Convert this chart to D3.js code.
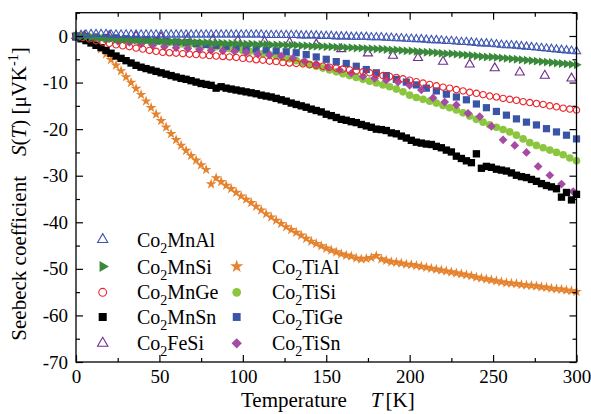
<!DOCTYPE html>
<html>
<head>
<meta charset="utf-8">
<script src="https://cdn.jsdelivr.net/npm/d3@7"></script>
<style>
  html, body { margin: 0; padding: 0; background: #fff; }
  svg { display: block; }
  text { font-family: "Liberation Serif", "Times New Roman", serif; fill: #000; }
</style>
</head>
<body>
<svg id="chart" width="591" height="414"></svg>
<script>
// ---------------- DATA ----------------
const xTicks = [0, 50, 100, 150, 200, 250, 300];
const yTicks = [0, -10, -20, -30, -40, -50, -60, -70];

const T3 = [0,3,6,9,12,15,18,21,24,27,30,33,36,39,42,45,48,51,54,57,60,63,66,69,72,75,78,81,84,87,90,93,96,99,102,105,108,111,114,117,120,123,126,129,132,135,138,141,144,147,150,153,156,159,162,165,168,171,174,177,180,183,186,189,192,195,198,201,204,207,210,213,216,219,222,225,228,231,234,237,240,243,246,249,252,255,258,261,264,267,270,273,276,279,282,285,288,291,294,297,300];
const T4 = [0,4,8,12,16,20,24,28,32,36,40,44,48,52,56,60,64,68,72,76,80,84,88,92,96,100,104,108,112,116,120,124,128,132,136,140,144,148,152,156,160,164,168,172,176,180,184,188,192,196,200,204,208,212,216,220,224,228,232,236,240,244,248,252,256,260,264,268,272,276,280,284,288,292,296,300];
const T6 = [0,6,12,18,24,30,36,42,48,54,60,66,72,78,84,90,96,102,108,114,120,126,132,138,144,150,156,162,168,174,180,186,192,198,204,210,216,222,228,234,240,246,252,258,264,270,276,282,288,294,300];
const T_FeSi = [5,20,36,51,67,82,97,113,128,144,159,175,190,205,220,236,251,266,281,297];
const T_TiSn = [4,11,18,25,32,39,46,53,60,67,74,81,88,95,102,109,116,123,130,137,144,151,158,165,172,179,186,193,200,207,214,221,228,235,242,249,256,263,270,277,284,291,298];

const S_MnAl = [0,0.2,0.3,0.4,0.4,0.4,0.4,0.3,0.3,0.3,0.3,
  0.3,0.3,0.3,0.3,0.3,0.3,0.3,0.3,0.3,0.3,
  0.3,0.3,0.3,0.3,0.3,0.3,0.3,0.3,0.3,0.3,
  0.3,0.3,0.3,0.3,0.3,0.3,0.3,0.2,0.2,0.2,
  0.2,0.2,0.2,0.2,0.1,0.1,0.1,0.1,0.0,0.0,
  0.0,-0.1,-0.1,-0.1,-0.2,-0.2,-0.2,-0.2,-0.3,-0.3,
  -0.3,-0.4,-0.4,-0.5,-0.5,-0.6,-0.6,-0.7,-0.7,-0.8,
  -0.9,-0.9,-1.0,-1.1,-1.1,-1.2,-1.3,-1.3,-1.4,-1.5,
  -1.6,-1.6,-1.7,-1.8,-1.9,-2.0,-2.0,-2.1,-2.2,-2.3,
  -2.4,-2.5,-2.6,-2.7,-2.8,-2.9,-3.0,-3.1,-3.2,-3.3];

const S_MnSi = [0,-0.1,-0.2,-0.3,-0.4,-0.5,-0.6,-0.6,-0.7,-0.8,-0.8,
  -0.9,-0.9,-1.0,-1.0,-1.1,-1.1,-1.1,-1.2,-1.2,-1.2,
  -1.3,-1.3,-1.3,-1.4,-1.4,-1.4,-1.5,-1.5,-1.5,-1.6,
  -1.6,-1.6,-1.7,-1.7,-1.7,-1.8,-1.8,-1.8,-1.9,-1.9,
  -1.9,-2.0,-2.0,-2.0,-2.1,-2.1,-2.2,-2.2,-2.2,-2.3,
  -2.3,-2.4,-2.4,-2.5,-2.5,-2.6,-2.6,-2.7,-2.7,-2.8,
  -2.8,-2.9,-3.0,-3.0,-3.1,-3.2,-3.2,-3.3,-3.4,-3.5,
  -3.5,-3.6,-3.7,-3.8,-3.8,-3.9,-4.0,-4.1,-4.2,-4.3,
  -4.4,-4.5,-4.5,-4.6,-4.7,-4.8,-4.9,-5.0,-5.1,-5.2,
  -5.3,-5.4,-5.5,-5.6,-5.7,-5.8,-5.9,-6.0,-6.1,-6.2];

const S_MnGe = [0,-0.3,-0.6,-1.0,-1.3,-1.6,-1.9,-2.1,-2.3,-2.6,-2.8,-3.1,-3.3,-3.5,-3.6,-3.7,-3.8,-3.9,-4.0,-4.1,
  -4.2,-4.3,-4.4,-4.5,-4.6,-4.8,-4.9,-5.1,-5.2,-5.4,-5.5,-5.7,-5.8,-5.9,-6.0,-6.2,-6.3,-6.5,-6.7,-6.9,
  -7.1,-7.3,-7.5,-7.7,-7.9,-8.2,-8.5,-8.7,-8.9,-9.2,-9.5,-9.8,-10.1,-10.4,-10.7,-11.0,-11.2,-11.5,-11.8,-12.1,
  -12.3,-12.6,-12.9,-13.1,-13.4,-13.6,-13.8,-14.1,-14.3,-14.5,-14.7,-15.0,-15.2,-15.5,-15.7,-15.9];

const S_MnSn = [-0.2,-0.6,-1.0,-1.5,-2.0,-2.5,-3.1,-3.7,-4.3,-4.8,-5.3,
  -5.8,-6.3,-6.7,-7.0,-7.3,-7.6,-7.9,-8.2,-8.5,-8.8,
  -9.1,-9.3,-9.6,-9.9,-10.2,-10.4,-10.6,-11.2,-10.9,-11.2,
  -11.4,-11.6,-11.8,-12.0,-12.2,-12.4,-12.7,-12.9,-13.1,-13.4,
  -13.7,-14.0,-14.4,-14.7,-15.0,-15.3,-15.7,-16.0,-16.3,-16.8,
  -17.1,-17.5,-17.9,-18.1,-18.4,-18.6,-19.0,-19.3,-19.6,-20.0,
  -20.1,-20.3,-20.8,-21.0,-21.5,-21.9,-22.4,-22.8,-23.0,-23.2,
  -23.3,-23.7,-24.0,-24.5,-24.9,-25.8,-26.3,-26.8,-27.2,-25.3,
  -28.4,-28.0,-28.2,-28.6,-28.8,-29.0,-29.4,-29.9,-30.2,-30.4,
  -30.8,-31.2,-31.7,-32.1,-32.4,-32.8,-34.6,-33.6,-35.2,-34.0];

const S_FeSi = [0,0,-0.1,-0.3,-0.5,-0.8,-1.0,-1.2,-1.4,-1.8,-2.8,-3.7,-4.2,-4.7,-5.5,-6.1,-6.9,-7.8,-8.5,-9.1];

const S_TiAl = [0.3,0.2,-0.4,-1.0,-1.8,-2.8,-3.9,-5.1,-6.3,-7.5,-8.8,
  -10.0,-11.3,-12.6,-14.0,-15.4,-16.8,-18.2,-19.6,-21.0,-22.3,
  -23.5,-24.6,-25.7,-26.7,-27.7,-28.7,-31.8,-30.5,-31.3,-32.1,
  -32.8,-33.6,-34.4,-35.1,-35.8,-36.6,-37.4,-38.2,-38.9,-39.6,
  -40.3,-41.0,-41.6,-42.2,-42.8,-43.5,-44.1,-44.6,-45.1,-45.6,
  -46.0,-46.4,-46.8,-47.1,-47.3,-47.7,-47.9,-47.8,-47.6,-47.2,
  -47.9,-48.2,-48.5,-48.6,-48.8,-49.0,-49.1,-49.3,-49.5,-49.7,
  -49.9,-50.1,-50.3,-50.5,-50.7,-50.9,-51.1,-51.3,-51.5,-51.8,
  -52.0,-52.2,-52.4,-52.6,-52.8,-53.0,-53.1,-53.2,-53.4,-53.5,
  -53.6,-53.7,-53.9,-54.0,-54.2,-54.3,-54.4,-54.6,-54.7,-54.9];

const S_TiSi = [0,-0.1,-0.2,-0.3,-0.4,-0.5,-0.6,-0.7,-0.8,-0.9,-1.0,-1.1,-1.2,-1.3,-1.4,-1.6,-1.7,-1.8,-1.9,-2.0,
  -2.1,-2.3,-2.5,-2.7,-2.9,-3.1,-3.3,-3.5,-3.8,-4.0,-4.3,-4.6,-4.9,-5.3,-5.7,-6.1,-6.5,-6.9,-7.3,-7.7,
  -8.1,-8.5,-8.9,-9.3,-9.7,-10.1,-10.5,-10.9,-11.4,-12.0,-12.7,-13.2,-13.6,-14.0,-14.4,-14.9,-15.4,-15.9,-16.5,-17.2,
  -17.9,-18.5,-19.1,-19.6,-20.1,-20.6,-21.3,-22.1,-22.9,-23.5,-24.0,-24.5,-25.0,-25.5,-26.2,-26.8];

const S_TiGe = [0,-0.1,-0.2,-0.3,-0.4,-0.6,-0.7,-0.8,-1.0,-1.1,-1.3,-1.4,-1.6,-1.8,-2.0,-2.2,-2.4,-2.6,-2.8,-3.0,
  -3.2,-3.4,-3.6,-4.0,-4.5,-5.0,-5.5,-5.9,-6.5,-7.2,-7.9,-8.5,-9.3,-9.9,-10.5,-11.2,-11.8,-12.5,-13.1,-13.7,
  -14.6,-15.4,-16.2,-17.0,-17.8,-18.5,-19.1,-19.9,-20.6,-21.3,-22.1];

const S_TiSn = [-0.2,-0.5,-0.8,-1.1,-1.4,-1.7,-2.0,-2.3,-2.5,-2.7,-2.9,-3.1,-3.2,-3.3,-3.5,-3.9,-4.1,-4.3,-4.8,-5.4,
  -6.0,-6.7,-7.3,-8.0,-8.7,-9.1,-9.5,-9.9,-10.6,-11.6,-13.3,-14.2,-14.8,-16.6,-17.3,-19.4,-22.3,-23.5,-25.0,-28.0,
  -29.9,-31.8,-33.4];

// ---------------- CHART ----------------
const svg = d3.select("#chart");
const pLeft = 76, pRight = 576.5, pTop = 12.7, pBottom = 362;

const x = d3.scaleLinear().domain([0, 300]).range([pLeft, pRight]);
const y = d3.scaleLinear().domain([-70, 5]).range([pBottom, pTop]);

const series = [
  {name: "MnAl", T: T3, S: S_MnAl, color: "#3d56b2", shape: "tri", fill: false, size: 30},
  {name: "MnSi", T: T3, S: S_MnSi, color: "#3b893b", shape: "triR", fill: true, size: 34},
  {name: "MnGe", T: T4, S: S_MnGe, color: "#e8262c", shape: "circle", fill: false, size: 32},
  {name: "MnSn", T: T3, S: S_MnSn, color: "#000000", shape: "square", fill: true, size: 54},
  {name: "FeSi", T: T_FeSi, S: S_FeSi, color: "#6f2c8f", shape: "tri", fill: false, size: 36},
  {name: "TiAl", T: T3, S: S_TiAl, color: "#e5832f", shape: "star", fill: true, size: 36},
  {name: "TiSi", T: T4, S: S_TiSi, color: "#8cc63f", shape: "circle", fill: true, size: 46},
  {name: "TiGe", T: T6, S: S_TiGe, color: "#3a55a6", shape: "square", fill: true, size: 52},
  {name: "TiSn", T: T_TiSn, S: S_TiSn, color: "#a64ba4", shape: "diamond", fill: true, size: 38}
];
const byName = Object.fromEntries(series.map(s => [s.name, s]));

function symPath(s, scale) {
  const k = scale || 1;
  let type = d3.symbolCircle;
  if (s.shape === "tri" || s.shape === "triR") type = d3.symbolTriangle;
  if (s.shape === "square" || s.shape === "diamond") type = d3.symbolSquare;
  if (s.shape === "star") type = d3.symbolStar;
  return d3.symbol().type(type).size(s.size * k)();
}
function symRot(s) {
  if (s.shape === "triR") return 90;
  if (s.shape === "diamond") return 45;
  return 0;
}
function styleMark(sel, s) {
  if (s.fill) sel.attr("fill", s.color).attr("stroke", "none");
  else sel.attr("fill", "none").attr("stroke", s.color).attr("stroke-width", 1.1);
}

const order = ["TiAl", "TiSi", "TiGe", "TiSn", "FeSi", "MnSn", "MnGe", "MnSi", "MnAl"];
const gData = svg.append("g");
order.forEach(n => {
  const s = byName[n];
  const pts = s.T.map((t, i) => ({t, v: s.S[i]}));
  const d = symPath(s);
  const rot = symRot(s);
  const sel = gData.append("g").selectAll("path").data(pts).join("path")
    .attr("d", d)
    .attr("transform", p => `translate(${x(p.t)},${y(p.v)}) rotate(${rot})`);
  styleMark(sel, s);
});

svg.append("rect").attr("x", pLeft).attr("y", pTop)
  .attr("width", pRight - pLeft).attr("height", pBottom - pTop)
  .attr("fill", "none").attr("stroke", "#000").attr("stroke-width", 1.3);

const fontTick = 19;
const xMinor = [25, 75, 125, 175, 225, 275];
const yMinor = [5, -5, -15, -25, -35, -45, -55, -65];

function axisStyle(g) {
  g.select(".domain").remove();
  g.selectAll("line").attr("stroke", "#000").attr("stroke-width", 1.2);
  g.selectAll("text").style("font-family", '"Liberation Serif", serif').style("font-size", fontTick + "px");
}

svg.append("g").attr("transform", `translate(0,${pBottom})`)
  .call(d3.axisBottom(x).tickValues(xTicks).tickSize(-7).tickPadding(8).tickFormat(d3.format("d")))
  .call(axisStyle);
svg.append("g").attr("transform", `translate(0,${pBottom})`)
  .call(d3.axisBottom(x).tickValues(xMinor).tickSize(-4).tickFormat(""))
  .call(axisStyle);
svg.append("g").attr("transform", `translate(0,${pTop})`)
  .call(d3.axisTop(x).tickValues(xTicks).tickSize(-7).tickFormat(""))
  .call(axisStyle);
svg.append("g").attr("transform", `translate(0,${pTop})`)
  .call(d3.axisTop(x).tickValues(xMinor).tickSize(-4).tickFormat(""))
  .call(axisStyle);

svg.append("g").attr("transform", `translate(${pLeft},0)`)
  .call(d3.axisLeft(y).tickValues(yTicks).tickSize(-7).tickPadding(8).tickFormat(d => d === 0 ? "0" : "-" + Math.abs(d)))
  .call(axisStyle);
svg.append("g").attr("transform", `translate(${pLeft},0)`)
  .call(d3.axisLeft(y).tickValues(yMinor).tickSize(-4).tickFormat(""))
  .call(axisStyle);
svg.append("g").attr("transform", `translate(${pRight},0)`)
  .call(d3.axisRight(y).tickValues(yTicks).tickSize(-7).tickFormat(""))
  .call(axisStyle);
svg.append("g").attr("transform", `translate(${pRight},0)`)
  .call(d3.axisRight(y).tickValues(yMinor).tickSize(-4).tickFormat(""))
  .call(axisStyle);

const xt = svg.append("text").attr("x", 241).attr("y", 407).attr("text-anchor", "start")
  .style("font-size", "21px");
xt.append("tspan").text("Temperature");
xt.append("tspan").attr("dx", 24).style("font-style", "italic").text("T");
xt.append("tspan").attr("dx", 3).text("[K]");

const yt = svg.append("text").attr("transform", "translate(26,194) rotate(-90)")
  .attr("text-anchor", "middle").style("font-size", "21px");
yt.append("tspan").text("Seebeck coefficient");
yt.append("tspan").attr("dx", 20).style("font-style", "italic").text("S");
yt.append("tspan").text("(");
yt.append("tspan").style("font-style", "italic").text("T");
yt.append("tspan").text(") [μVK");
yt.append("tspan").attr("dy", -8).style("font-size", "14px").text("-1");
yt.append("tspan").attr("dy", 8).text("]");

const legendRows = [
  {n: "MnAl", col: 0, row: 0}, {n: "MnSi", col: 0, row: 1}, {n: "MnGe", col: 0, row: 2},
  {n: "MnSn", col: 0, row: 3}, {n: "FeSi", col: 0, row: 4},
  {n: "TiAl", col: 1, row: 1}, {n: "TiSi", col: 1, row: 2}, {n: "TiGe", col: 1, row: 3}, {n: "TiSn", col: 1, row: 4}
];
const rowY = [239.5, 266.5, 292.3, 317, 343.3];
const colMx = [102.7, 236.7];
const colTx = [137, 272];
const legendScale = {MnAl: 1.5, MnSi: 1.5, MnGe: 1.5, MnSn: 1.2, FeSi: 1.3, TiAl: 1.5, TiSi: 1.3, TiGe: 1.2, TiSn: 1.4};
const gL = svg.append("g");
legendRows.forEach(r => {
  const s = byName[r.n];
  const m = gL.append("path").attr("d", symPath(s, legendScale[r.n]))
    .attr("transform", `translate(${colMx[r.col]},${rowY[r.row]}) rotate(${symRot(s)})`);
  styleMark(m, s);
  const t = gL.append("text").attr("x", colTx[r.col]).attr("y", rowY[r.row] + 7).style("font-size", "20px");
  t.append("tspan").text("Co");
  t.append("tspan").attr("dy", 6).style("font-size", "14px").text("2");
  t.append("tspan").attr("dy", -6).text(r.n);
});
</script>
</body>
</html>
